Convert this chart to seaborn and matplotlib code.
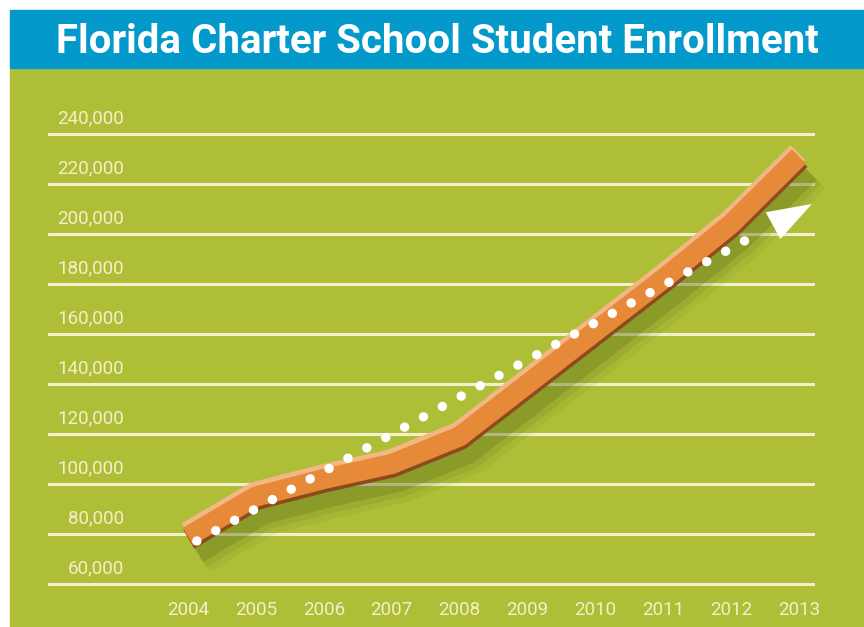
import matplotlib
matplotlib.use("Agg")
import matplotlib.pyplot as plt
import matplotlib.patheffects as pe
import matplotlib.transforms as mtransforms
from matplotlib.patches import Rectangle
import seaborn as sns
import pandas as pd

# ---- data ----
years = [2004, 2005, 2006, 2007, 2008, 2009, 2010, 2011, 2012, 2013]
enrollment = [79000, 95000, 102000, 108000, 119000, 140000, 161000, 182000, 204000, 231000]
y_ticks = [60000, 80000, 100000, 120000, 140000, 160000, 180000, 200000, 220000, 240000]
y_tick_labels = ["60,000", "80,000", "100,000", "120,000", "140,000", "160,000",
                 "180,000", "200,000", "220,000", "240,000"]
x_tick_labels = ["2004", "2005", "2006", "2007", "2008", "2009", "2010", "2011", "2012", "2013"]
trend_x = [2004.13, 2012.41]
trend_y = [77200, 200400]
arrow_x = [2012.62, 2013.19]   # base, tip
arrow_y = [203400, 212000]
title = "Florida Charter School Student Enrollment"

df = pd.DataFrame({"year": years, "enrollment": enrollment})

sns.set_theme(style="white")
plt.rcParams["font.family"] = ["Liberation Sans Narrow", "Roboto", "DejaVu Sans"]

W, H = 864, 627
fig = plt.figure(figsize=(W / 100, H / 100), dpi=100, facecolor="white")

GREEN = "#aebf37"
BLUE = "#039acb"
CREAM = "#f4efca"

# background panels
fig.patches.append(Rectangle((10 / W, 0), 1 - 10 / W, 1 - 68 / H,
                             transform=fig.transFigure, color=GREEN, zorder=-5))
fig.patches.append(Rectangle((10 / W, 1 - 68 / H), 1 - 10 / W, 58 / H,
                             transform=fig.transFigure, color=BLUE, zorder=-5))

fig.text(437 / W, 1 - 53 / H, title, color="white", fontsize=29, fontweight="bold",
         ha="center", va="baseline")

ax = fig.add_axes([48 / W, 1 - 595 / H, 767 / W, 495 / H])
ax.set_facecolor("none")
ax.set_xlim(2001.938, 2013.236)
ax.set_ylim(55600, 253600)

# grid
ax.set_yticks(y_ticks)
ax.set_xticks(years)
ax.set_xticklabels(x_tick_labels)
ax.grid(axis="y", color=CREAM, linewidth=2.2)
ax.grid(axis="x", visible=False)
ax.set_axisbelow(True)
for s in ax.spines.values():
    s.set_visible(False)
ax.tick_params(axis="y", length=0, labelleft=False)
ax.tick_params(axis="x", length=0, pad=4, labelsize=13.5, labelcolor=CREAM)

# y labels sitting above the grid lines
trans = mtransforms.offset_copy(ax.get_yaxis_transform(), fig=fig, x=0, y=16, units="dots")
for v, lab in zip(y_ticks, y_tick_labels):
    ax.text((124 - 48) / 767, v, lab, transform=trans, ha="right", va="center",
            fontsize=13.5, color=CREAM)

# ribbon
effects = [
    pe.Stroke(offset=(7, -11), linewidth=34, foreground="#6a7a22", alpha=0.10),
    pe.Stroke(offset=(6, -10), linewidth=28, foreground="#63701c", alpha=0.15),
    pe.Stroke(offset=(5, -9), linewidth=22, foreground="#5c6a18", alpha=0.25),
    pe.Stroke(offset=(0.6, -2), linewidth=15.5, foreground="#8c4a1e"),
    pe.Stroke(offset=(-0.8, 3), linewidth=15, foreground="#f2b785"),
    pe.Normal(),
]
sns.lineplot(data=df, x="year", y="enrollment", ax=ax, color="#e68938", linewidth=14.5,
             solid_capstyle="butt", solid_joinstyle="round", path_effects=effects,
             clip_on=False, zorder=3)

# dotted trend line with arrow
ax.plot(trend_x, trend_y, color="white", linewidth=6.8, linestyle=(0, (0.01, 2.27)),
        dash_capstyle="round", zorder=4, clip_on=False)
ax.annotate("", xy=(arrow_x[1], arrow_y[1]), xytext=(arrow_x[0], arrow_y[0]),
            arrowprops=dict(arrowstyle="-|>,head_length=32,head_width=11",
                            mutation_scale=1, fc="white", ec="none", lw=0,
                            shrinkA=0, shrinkB=0),
            zorder=5)

ax.set_xlabel("")
ax.set_ylabel("")

fig.savefig("out.png", dpi=100, facecolor="white")
